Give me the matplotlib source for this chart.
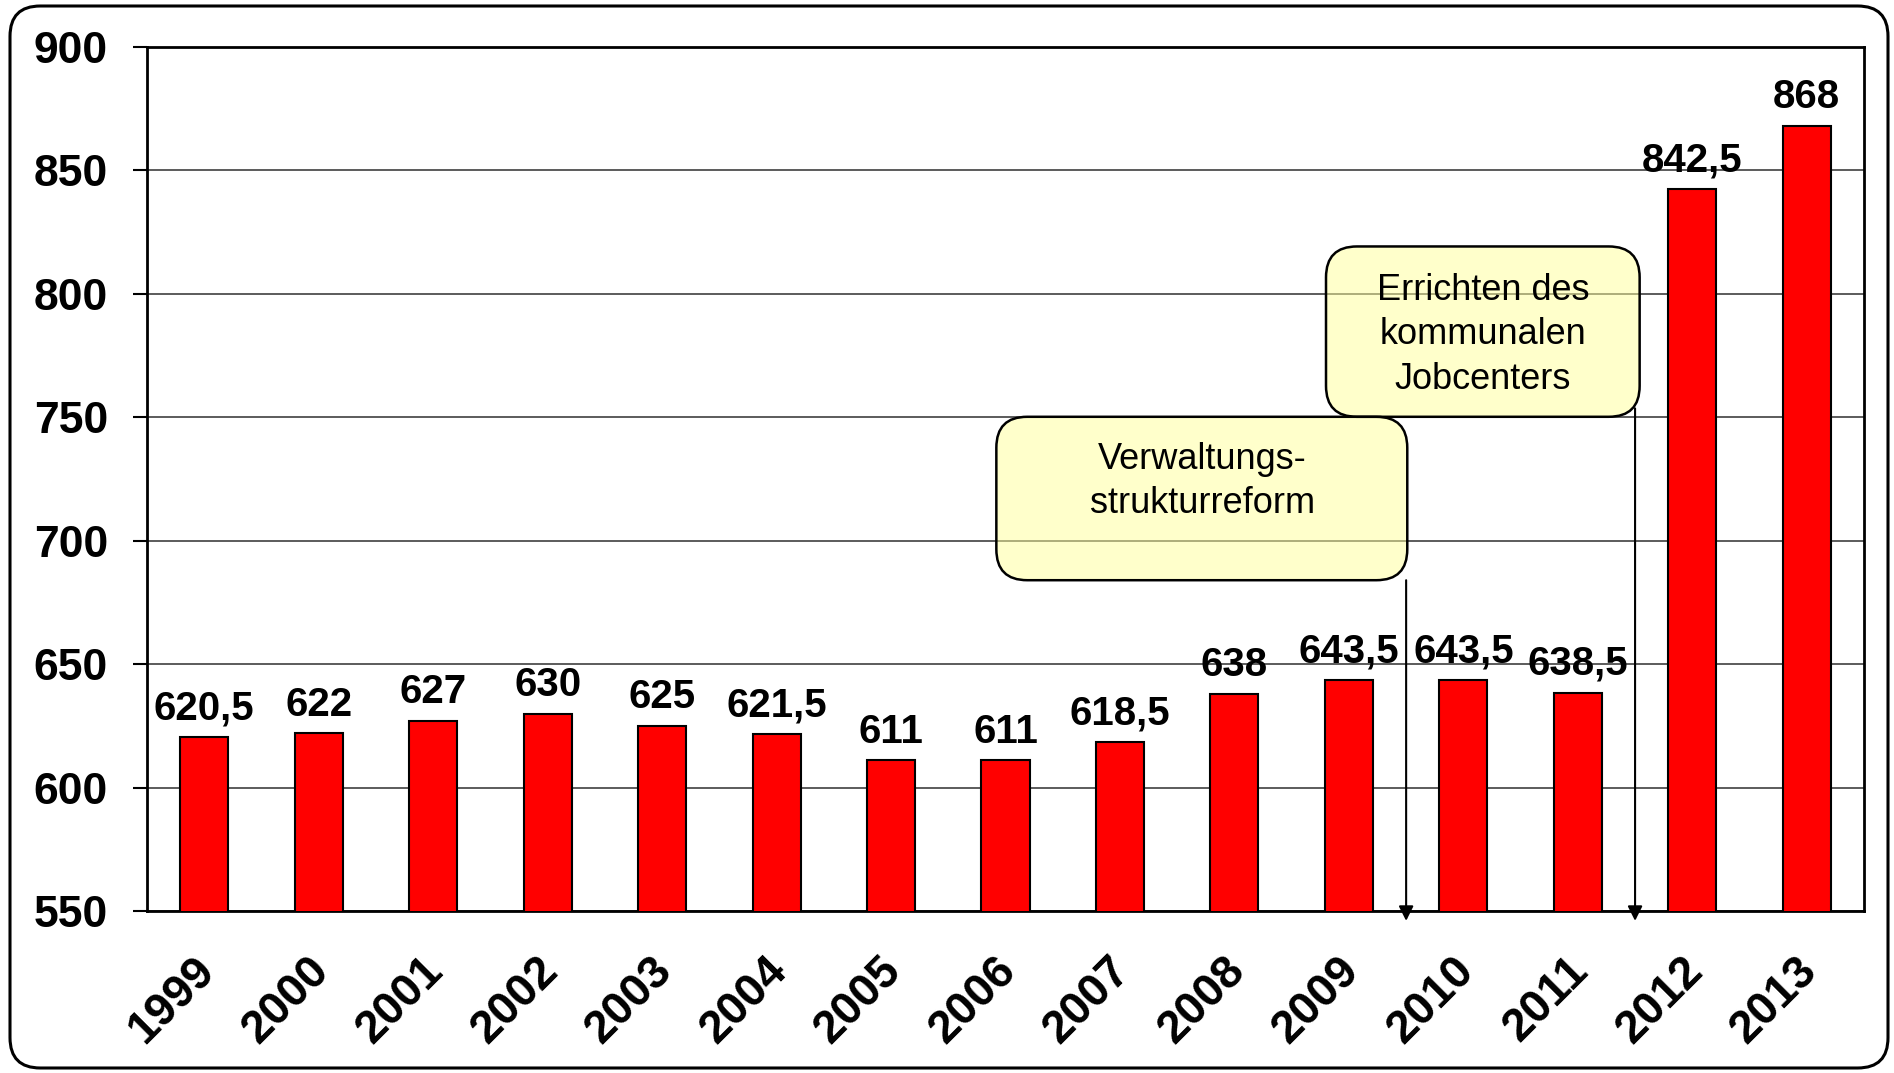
import matplotlib
matplotlib.use("Agg")
import matplotlib.pyplot as plt
from matplotlib.patches import FancyBboxPatch
from matplotlib.transforms import ScaledTranslation
import numpy as np

years = ["1999", "2000", "2001", "2002", "2003", "2004", "2005", "2006",
         "2007", "2008", "2009", "2010", "2011", "2012", "2013"]
values = [620.5, 622, 627, 630, 625, 621.5, 611, 611, 618.5, 638,
          643.5, 643.5, 638.5, 842.5, 868]
labels = ["620,5", "622", "627", "630", "625", "621,5", "611", "611", "618,5",
          "638", "643,5", "643,5", "638,5", "842,5", "868"]
yticks = [550, 600, 650, 700, 750, 800, 850, 900]

plt.rcParams['font.family'] = ['Liberation Sans', 'DejaVu Sans']

W, H = 1894, 1073
fig = plt.figure(figsize=(W / 100, H / 100), dpi=100)
ax = fig.add_axes([147 / W, 1 - 911 / H, (1864 - 147) / W, (911 - 47) / H])

x = np.arange(len(years))
ax.bar(x, values, width=0.42, color="#FF0000", edgecolor="black",
       linewidth=1.5, zorder=3)

for xi, v, lab in zip(x, values, labels):
    ax.annotate(lab, (xi, v), xytext=(0, 7), textcoords="offset points",
                ha="center", va="bottom", fontsize=29, fontweight="bold",
                zorder=5)

ax.set_xlim(-0.5, len(years) - 0.5)
ax.set_ylim(550, 900)
ax.set_yticks(yticks)
ax.set_yticklabels([str(t) for t in yticks], fontsize=32, fontweight="bold")
ax.set_xticks(x)
ax.set_xticklabels(years, fontsize=33, fontweight="bold", rotation=45,
                   ha="right", va="top", rotation_mode="anchor")
ax.tick_params(axis="x", length=0, pad=27)
ax.tick_params(axis="y", length=10, width=1.5, pad=18, direction="out")
shift = ScaledTranslation(-12 / 100, 0, fig.dpi_scale_trans)
for lab in ax.get_xticklabels():
    lab.set_transform(lab.get_transform() + shift)
ax.yaxis.grid(True, color="#404040", linewidth=1.2, zorder=0)
ax.set_axisbelow(True)
for s in ax.spines.values():
    s.set_linewidth(2)
    s.set_color("black")

# annotation boxes
px_x = (1864 - 147) / 15.0
px_y = (911 - 47) / 350.0
asp = px_x / px_y

def box(x0, x1, y0, y1):
    p = FancyBboxPatch((x0, y0), x1 - x0, y1 - y0,
                       boxstyle="round,pad=0,rounding_size=0.27",
                       mutation_aspect=asp, transform=ax.transData,
                       facecolor="#FFFF99", alpha=0.5, edgecolor="none",
                       zorder=6)
    ax.add_patch(p)
    p2 = FancyBboxPatch((x0, y0), x1 - x0, y1 - y0,
                        boxstyle="round,pad=0,rounding_size=0.27",
                        mutation_aspect=asp, transform=ax.transData,
                        facecolor="none", edgecolor="black", linewidth=1.8,
                        zorder=7)
    ax.add_patch(p2)

box(6.92, 10.51, 684, 750.2)
ax.text(8.72, 724.0, "Verwaltungs-\nstrukturreform", ha="center", va="center",
        fontsize=26, linespacing=1.35, zorder=8)
box(9.80, 12.54, 750.2, 819.2)
ax.text(11.17, 783.5, "Errichten des\nkommunalen\nJobcenters", ha="center",
        va="center", fontsize=26, linespacing=1.35, zorder=8)

for xa, ytop in [(10.5, 684), (12.5, 753.6)]:
    ax.annotate("", xy=(xa, 546), xytext=(xa, ytop),
                arrowprops=dict(arrowstyle="-|>", color="black", lw=1.5,
                                mutation_scale=22, shrinkA=0, shrinkB=0),
                zorder=8, annotation_clip=False)

# outer rounded frame
frame = FancyBboxPatch((10 / W, 1 - 1068 / H), (1888 - 10) / W, (1068 - 6) / H,
                       boxstyle="round,pad=0,rounding_size=0.016",
                       mutation_aspect=W / H, transform=fig.transFigure,
                       facecolor="none", edgecolor="black", linewidth=2.2,
                       zorder=-1)
fig.add_artist(frame)

fig.savefig("out.png", dpi=100)
